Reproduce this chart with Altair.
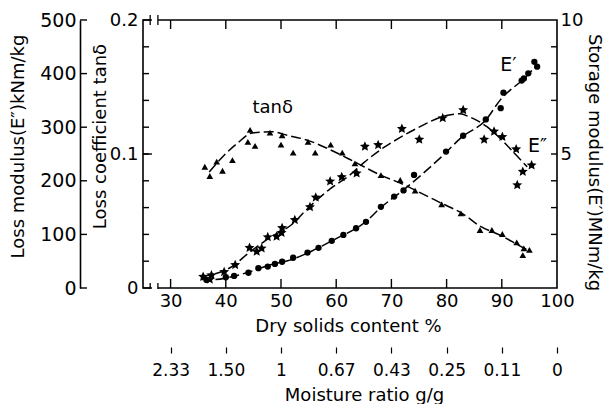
import altair as alt
import pandas as pd

# ---------------- data ----------------
dry_ticks = [30, 40, 50, 60, 70, 80, 90, 100]
moisture_labels = ["2.33", "1.50", "1", "0.67", "0.43", "0.25", "0.11", "0"]
top_ticks = [30, 40, 50, 60, 70, 80, 90]
tan_ticks = [0.02, 0.04, 0.06, 0.08, 0.10, 0.12, 0.14, 0.16, 0.18]
tan_major = [0.0, 0.1, 0.2]
loss_ticks = [100, 200, 300, 400]
stor_ticks = [1, 2, 3, 4, 5, 6, 7, 8, 9]
# axis break on the dry-solids axis (gap between these values)
break_lo = [26.3]
break_hi = [27.7]

# loss coefficient tan(delta) - triangles
tan_x = [36.2, 37.1, 38.35, 39.4, 41.2, 44.4, 44.0, 45.3, 48.0, 50.2, 50.0, 52.2, 54.9, 56.2,
         59.0, 61.1, 63.4, 68.1, 71.6, 74.3, 79.1, 82.6, 86.05, 88.2, 90.1, 92.7, 94.0, 95.0, 93.8]
tan_y = [0.0905, 0.0836, 0.0943, 0.0875, 0.0955, 0.118, 0.109, 0.106, 0.116, 0.114, 0.107, 0.101,
         0.109, 0.101, 0.107, 0.101, 0.093, 0.0843, 0.0806, 0.0726, 0.0625, 0.0557, 0.0433, 0.0433,
         0.0403, 0.0341, 0.0296, 0.0284, 0.0246]
tan_curve_x = [37.0, 39.4, 42.1, 44.8, 48.4, 51.1, 55.0, 59.0, 63.4, 68.0, 72.0, 74.3, 79.0, 83.0,
               86.0, 90.0, 93.0, 95.0]
tan_curve_y = [0.0866, 0.0978, 0.108, 0.1157, 0.1166, 0.114, 0.110, 0.103, 0.094, 0.0843, 0.0776,
               0.073, 0.0634, 0.0552, 0.0463, 0.0388, 0.032, 0.0276]

# loss modulus E'' (kNm/kg) - stars
loss_x = [35.9, 37.1, 37.4, 39.7, 41.7, 44.3, 45.6, 46.5, 47.6, 49.2, 50.2, 50.1, 52.5, 55.25, 56.3,
          58.9, 61.0, 63.7, 65.2, 67.6, 71.9, 75.05, 79.3, 83.0, 86.8, 88.6, 90.1, 92.6, 95.4, 93.8, 92.8]
loss_y = [21, 16, 24, 30, 43, 75, 68, 74, 95, 96, 112, 103, 127, 151, 169, 199, 207, 214, 264, 267,
          297, 277, 317, 332, 277, 292, 282, 259, 229, 217, 192]
loss_curve_x = [35.6, 41.1, 44.1, 48.3, 51.9, 54.7, 58.9, 62.5, 64.9, 67.9, 71.6, 75.2, 79.3, 82.4,
                84.2, 87.3, 90.2, 92.6, 94.6]
loss_curve_y = [21, 40, 65, 96, 118, 147, 185, 211, 233, 257, 281, 301, 320, 325, 319, 301, 274, 248, 226]

# storage modulus E' (MNm/kg) - circles
stor_x = [36.5, 40.0, 41.5, 44.1, 45.9, 47.6, 48.9, 50.2, 52.2, 54.8, 56.8, 59.2, 61.3, 63.6, 65.4,
          68.1, 70.5, 72.2, 74.1, 79.9, 83.0, 87.1, 89.8, 90.3, 93.6, 94.0, 94.8, 95.9, 96.4]
stor_y = [0.30, 0.40, 0.45, 0.57, 0.74, 0.80, 0.90, 0.98, 1.13, 1.32, 1.50, 1.76, 1.98, 2.23, 2.47,
          3.03, 3.41, 3.64, 4.22, 5.09, 5.68, 6.29, 6.71, 7.29, 7.74, 7.82, 8.01, 8.44, 8.26]
stor_curve_x = [35.6, 38.0, 41.7, 44.1, 48.3, 51.6, 55.6, 59.5, 65.5, 67.9, 72.2, 79.4, 82.7, 87.1,
                89.7, 94.5, 96.3]
stor_curve_y = [0.32, 0.32, 0.45, 0.59, 0.88, 1.04, 1.38, 1.79, 2.50, 2.97, 3.66, 4.96, 5.62, 6.27,
                7.01, 7.91, 8.32]

# annotations
tan_label = {"x": [48.5], "y": [0.1306], "t": ["tan\u03b4"]}
e_labels = {"x": [89.7, 94.75], "y": [8.10, 5.07], "t": ["E\u2032", "E\u2033"]}

# ---------------- styling ----------------
FONT = "DejaVu Sans"
W, H = 414, 268
INK = "black"
DASH = [10, 4]

xs = alt.Scale(domain=[25, 100], nice=False, zero=False)
sc_tan = alt.Scale(domain=[0, 0.2], nice=False, zero=False)
sc_loss = alt.Scale(domain=[0, 500], nice=False, zero=False)
sc_stor = alt.Scale(domain=[0, 10], nice=False, zero=False)

STAR = ("M0,-1L0.27,-0.37L0.951,-0.309L0.44,0.143L0.588,0.809L0,0.46L-0.588,0.809"
        "L-0.44,0.143L-0.951,-0.309L-0.27,-0.37Z")

tan_df = pd.DataFrame({"x": tan_x, "y": tan_y})
tan_c = pd.DataFrame({"x": tan_curve_x, "y": tan_curve_y})
loss_df = pd.DataFrame({"x": loss_x, "y": loss_y})
loss_c = pd.DataFrame({"x": loss_curve_x, "y": loss_curve_y})
stor_df = pd.DataFrame({"x": stor_x, "y": stor_y})
stor_c = pd.DataFrame({"x": stor_curve_x, "y": stor_curve_y})

def X(axis=None, field="x"):
    return alt.X(field + ":Q", scale=xs, axis=axis)

main_x_axis = alt.Axis(values=dry_ticks, orient="bottom", title="Dry solids content %", ticks=False,
                       tickSize=0, domain=False, labelFontSize=18, labelPadding=4, labelFlush=False,
                       titleFontSize=18, titleX=205, titleY=43, titleBaseline="alphabetic",
                       titleAnchor="middle", titleAlign="center")

lookup = "''"
for v, s in zip(dry_ticks, moisture_labels):
    lookup = "datum.value == %s ? '%s' : (%s)" % (v, s, lookup)
moist_axis = alt.Axis(values=dry_ticks, orient="bottom", offset=59, domain=False, ticks=True,
                      tickSize=6, tickWidth=1.2, tickColor=INK, labelExpr=lookup, labelFontSize=17,
                      labelPadding=9, labelFlush=False, title="Moisture ratio g/g",
                      titleFontSize=18, titleX=221, titleY=53, titleBaseline="alphabetic",
                      titleAlign="center")

tan_axis = alt.Axis(values=tan_major, orient="left", ticks=False, tickSize=0, domain=False,
                    labelExpr="datum.value == 0 ? '0' : format(datum.value, '.1f')",
                    labelFontSize=18, labelPadding=5, labelFlush=False,
                    title="Loss coefficient tan\u03b4", titleFontSize=18, titleAngle=-90,
                    titleX=-43, titleY=116, titleBaseline="middle", titleAlign="center")

loss_axis = alt.Axis(values=[0, 100, 200, 300, 400, 500], orient="left", offset=63, ticks=False,
                     tickSize=0, domain=True, domainColor=INK, domainWidth=1.6, format="d",
                     labelFontSize=19, labelPadding=4, labelFlush=False,
                     title="Loss modulus(E\u2033)kNm/kg", titleFontSize=18, titleAngle=-90,
                     titleX=-62, titleY=126, titleBaseline="middle", titleAlign="center")

stor_axis = alt.Axis(values=[5, 10], orient="right", ticks=False, tickSize=0, domain=False,
                     format="d", labelFontSize=18, labelPadding=3, labelFlush=False,
                     title="Storage modulus(E\u2032)MNm/kg", titleFontSize=18, titleAngle=90,
                     titleX=36, titleY=142, titleBaseline="middle", titleAlign="center")

# ---------------- layers ----------------
line_kw = dict(color=INK, strokeWidth=1.5, strokeDash=DASH, interpolate="monotone")

tan_curve = alt.Chart(tan_c).mark_line(**line_kw).encode(X(), alt.Y("y:Q", scale=sc_tan, axis=None))
tan_pts = alt.Chart(tan_df).mark_point(shape="triangle-up", filled=True, size=45, color=INK,
                                       opacity=1).encode(
    X(main_x_axis), alt.Y("y:Q", scale=sc_tan, axis=tan_axis))
tan_txt = alt.Chart(pd.DataFrame(tan_label)).mark_text(font=FONT, fontSize=18, color=INK,
                                                       align="center", baseline="alphabetic").encode(
    X(), alt.Y("y:Q", scale=sc_tan, axis=None), text="t:N")

loss_curve = alt.Chart(loss_c).mark_line(**line_kw).encode(X(), alt.Y("y:Q", scale=sc_loss, axis=None))
loss_pts = alt.Chart(loss_df).mark_point(shape=STAR, filled=True, size=110, color=INK,
                                         opacity=1).encode(
    X(), alt.Y("y:Q", scale=sc_loss, axis=loss_axis))

stor_curve = alt.Chart(stor_c).mark_line(**line_kw).encode(X(), alt.Y("y:Q", scale=sc_stor, axis=None))
stor_pts = alt.Chart(stor_df).mark_point(shape="circle", filled=True, size=40, color=INK,
                                         opacity=1).encode(
    X(), alt.Y("y:Q", scale=sc_stor, axis=stor_axis))
e_txt = alt.Chart(pd.DataFrame(e_labels)).mark_text(font=FONT, fontSize=19, color=INK,
                                                    align="left", baseline="alphabetic").encode(
    X(), alt.Y("y:Q", scale=sc_stor, axis=None), text="t:N")

# inward tick marks
bottom_ticks = alt.Chart(pd.DataFrame({"x": dry_ticks[:-1]})).mark_rule(color=INK, strokeWidth=1.4).encode(
    X(moist_axis), y=alt.value(H), y2=alt.value(H - 9))
top_tk = alt.Chart(pd.DataFrame({"x": top_ticks})).mark_rule(color=INK, strokeWidth=1.4).encode(
    X(), y=alt.value(0), y2=alt.value(9))
tan_tk = alt.Chart(pd.DataFrame({"y": tan_ticks})).mark_rule(color=INK, strokeWidth=1.4).encode(
    alt.Y("y:Q", scale=sc_tan, axis=None), x=alt.value(0), x2=alt.value(6))
tan_tk2 = alt.Chart(pd.DataFrame({"y": tan_major})).mark_rule(color=INK, strokeWidth=1.4).encode(
    alt.Y("y:Q", scale=sc_tan, axis=None), x=alt.value(0), x2=alt.value(9))
loss_tk = alt.Chart(pd.DataFrame({"y": [0] + loss_ticks + [500]})).mark_rule(color=INK, strokeWidth=1.4).encode(
    alt.Y("y:Q", scale=sc_loss, axis=None), x=alt.value(-63), x2=alt.value(-56))
stor_tk = alt.Chart(pd.DataFrame({"y": stor_ticks})).mark_rule(color=INK, strokeWidth=1.4).encode(
    alt.Y("y:Q", scale=sc_stor, axis=None), x=alt.value(W), x2=alt.value(W - 6))

# axis-break marks on the top and bottom frame lines
brk = pd.DataFrame({"x": break_lo, "x2": break_hi})
brk_edges = pd.DataFrame({"x": break_lo + break_hi})
gap_top = alt.Chart(brk).mark_rule(color="white", strokeWidth=4).encode(
    X(), x2="x2:Q", y=alt.value(0))
gap_bot = alt.Chart(brk).mark_rule(color="white", strokeWidth=4).encode(
    X(), x2="x2:Q", y=alt.value(H))
slash_top = alt.Chart(brk_edges).mark_rule(color=INK, strokeWidth=1.3).encode(
    X(), y=alt.value(5), y2=alt.value(-5))
bar_bot = alt.Chart(brk_edges).mark_rule(color=INK, strokeWidth=1.3).encode(
    X(), y=alt.value(H + 1), y2=alt.value(H - 5))

chart = alt.layer(
    gap_top, gap_bot,
    bottom_ticks, top_tk, tan_tk, tan_tk2, loss_tk, stor_tk, slash_top, bar_bot,
    tan_curve, loss_curve, stor_curve,
    tan_pts, loss_pts, stor_pts, tan_txt, e_txt,
).resolve_scale(y="independent").resolve_axis(x="independent", y="independent").properties(
    width=W, height=H,
    background="white",
    autosize=alt.AutoSizeParams(type="none"),
    padding={"left": 135, "top": 12, "right": 48, "bottom": 116},
).configure_view(stroke=INK, strokeWidth=1.6).configure_axis(
    labelFont=FONT, titleFont=FONT, labelColor=INK, titleColor=INK, titleFontWeight="normal",
    grid=False
)

chart.save("out.html", embed_options={"renderer": "svg", "actions": False})
